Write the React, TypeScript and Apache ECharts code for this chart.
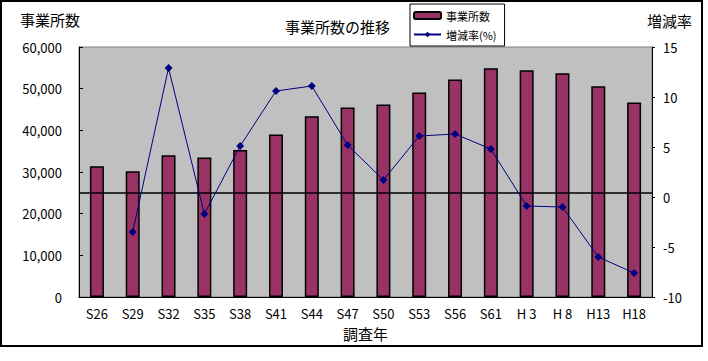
import React, { useEffect, useRef } from "react";
import * as echarts from "echarts";

const categories = ["S26", "S29", "S32", "S35", "S38", "S41", "S44", "S47", "S50", "S53", "S56", "S61", "H 3", "H 8", "H13", "H18"];
const establishments = [31400, 30200, 34000, 33500, 35300, 39000, 43400, 45500, 46200, 49100, 52200, 54900, 54400, 53700, 50600, 46700];
const changeRate = [null, -3.5, 12.9, -1.7, 5.1, 10.6, 11.1, 5.2, 1.7, 6.1, 6.3, 4.8, -0.9, -1.0, -6.0, -7.6];
const referenceLine = 25100;

const JP = "'Noto Sans CJK JP', 'Noto Sans', sans-serif";

export default function App() {
  const ref = useRef<HTMLDivElement>(null);
  useEffect(() => {
    if (!ref.current) return;
    const chart = echarts.init(ref.current, null, { renderer: "svg" });
    chart.setOption({
      animation: false,
      backgroundColor: "#ffffff",
      textStyle: { fontFamily: JP, color: "#000" },
      title: {
        text: "事業所数の推移",
        left: 285,
        top: 19,
        padding: 0,
        textStyle: { fontSize: 15, fontWeight: "normal", color: "#000", fontFamily: JP },
      },
      legend: {
        left: 410,
        top: 4,
        orient: "vertical",
        backgroundColor: "#fff",
        borderColor: "#000",
        borderWidth: 1,
        borderRadius: 0,
        padding: [5, 8, 5, 3],
        itemGap: 6,
        itemWidth: 27,
        itemHeight: 7,
        textStyle: { fontSize: 11, color: "#000", fontFamily: JP, lineHeight: 13 },
        data: ["事業所数", "増減率(%)"],
      },
      graphic: [
        { type: "rect", shape: { x: 1, y: 1, width: 701, height: 345 }, style: { fill: "none", stroke: "#000", lineWidth: 2 }, silent: true, z: 100 },
        { type: "text", left: 20, top: 12, style: { text: "事業所数", fontSize: 15, fill: "#000", fontFamily: JP } },
        { type: "text", left: 647, top: 13, style: { text: "増減率", fontSize: 15, fill: "#000", fontFamily: JP } },
      ],
      grid: {
        left: 79,
        top: 47,
        right: 56,
        bottom: 64,
        show: true,
        backgroundColor: "#C0C0C0",
        borderColor: "#808080",
        borderWidth: 1,
      },
      xAxis: {
        type: "category",
        data: categories,
        name: "調査年",
        nameLocation: "middle",
        nameGap: 29,
        nameTextStyle: { fontSize: 15, color: "#000", fontFamily: JP },
        axisLine: { lineStyle: { color: "#000", width: 1 } },
        axisTick: { inside: true, length: 4, lineStyle: { color: "#000" } },
        axisLabel: { fontSize: 13, color: "#000", margin: 10, interval: 0, fontFamily: JP },
        splitLine: { show: false },
      },
      yAxis: [
        {
          type: "value",
          min: 0,
          max: 60000,
          interval: 10000,
          axisLine: { show: true, lineStyle: { color: "#000", width: 1 } },
          axisTick: { show: true, inside: true, length: 4, lineStyle: { color: "#000" } },
          axisLabel: {
            fontSize: 13,
            color: "#000",
            margin: 17,
            fontFamily: JP,
            formatter: (v: number) => v.toLocaleString("en-US"),
          },
          splitLine: { show: false },
        },
        {
          type: "value",
          min: -10,
          max: 15,
          interval: 5,
          position: "right",
          axisLine: { show: true, lineStyle: { color: "#000", width: 1 } },
          axisTick: { show: true, inside: false, length: 3, lineStyle: { color: "#000" } },
          axisLabel: { fontSize: 13, color: "#000", margin: 11, fontFamily: JP },
          splitLine: { show: false },
        },
      ],
      series: [
        {
          name: "事業所数",
          type: "bar",
          data: establishments,
          barWidth: 14,
          itemStyle: { color: "#993366", borderColor: "#000", borderWidth: 1.5 },
          markLine: {
            silent: true,
            symbol: ["none", "none"],
            label: { show: false },
            lineStyle: { color: "#000", width: 1.5, type: "solid" },
            data: [{ yAxis: referenceLine }],
            z: 5,
          },
        },
        {
          name: "増減率(%)",
          type: "line",
          yAxisIndex: 1,
          data: changeRate,
          symbol: "diamond",
          symbolSize: 8,
          lineStyle: { color: "#000080", width: 1 },
          itemStyle: { color: "#000080" },
          z: 10,
        },
      ],
    });
    return () => chart.dispose();
  }, []);
  return <div ref={ref} style={{ position: "absolute", left: 0, top: 0, width: 708, height: 361 }} />;
}
